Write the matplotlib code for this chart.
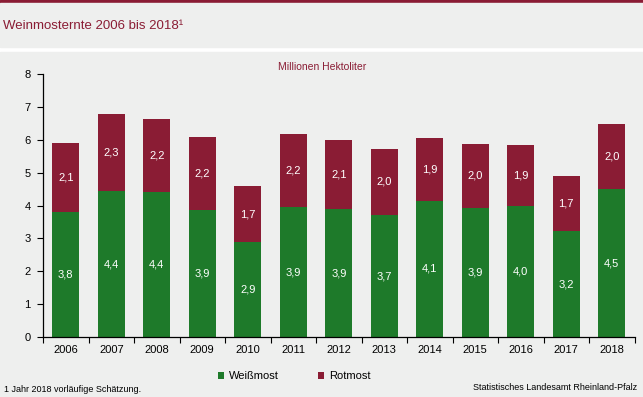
import numpy as np
import matplotlib.pyplot as plt
from matplotlib.patches import Rectangle

W, H = 643, 397
BG = '#eeefee'
GREEN = '#1e7a2a'
RED = '#8a1c34'

years = ['2006', '2007', '2008', '2009', '2010', '2011', '2012',
         '2013', '2014', '2015', '2016', '2017', '2018']
weiss = [3.80, 4.44, 4.41, 3.86, 2.89, 3.94, 3.89, 3.71, 4.14, 3.92, 3.98, 3.22, 4.50]
rot = [2.10, 2.34, 2.22, 2.22, 1.70, 2.22, 2.10, 2.01, 1.91, 1.96, 1.86, 1.67, 1.98]
yticks = [0, 1, 2, 3, 4, 5, 6, 7, 8]

plt.rcParams['font.family'] = ['Liberation Sans', 'DejaVu Sans']

fig = plt.figure(figsize=(W / 100, H / 100), dpi=100)
fig.patch.set_facecolor('white')

def px_rect(x0, y0, x1, y1, color):
    fig.patches.append(Rectangle((x0 / W, 1 - y1 / H), (x1 - x0) / W, (y1 - y0) / H,
                                 transform=fig.transFigure, color=color, zorder=-5))

px_rect(0, 0, W, 3, RED)
px_rect(0, 3, W, 47, BG)
px_rect(0, 52, W, H, BG)

fig.text(3 / W, 1 - 26 / H, 'Weinmosternte 2006 bis 2018\u00b9', fontsize=9.5,
         color=RED, va='center', ha='left')

ax = fig.add_axes([43 / W, 60 / H, 591.5 / W, 263 / H])
ax.set_facecolor(BG)
x = np.arange(len(years))
b1 = ax.bar(x, weiss, width=0.6, color=GREEN, zorder=2)
b2 = ax.bar(x, rot, width=0.6, bottom=weiss, color=RED, zorder=2)

for i in range(len(years)):
    ax.text(x[i], weiss[i] / 2, f'{weiss[i]:.1f}'.replace('.', ','), ha='center',
            va='center', color='white', fontsize=8)
    ax.text(x[i], weiss[i] + rot[i] / 2, f'{rot[i]:.1f}'.replace('.', ','), ha='center',
            va='center', color='white', fontsize=8)

ax.set_xlim(-0.5, len(years) - 0.5)
ax.set_ylim(0, 8)
ax.set_yticks(yticks)
ax.set_xticks(x)
ax.set_xticklabels(years)
ax.set_xticks(np.arange(len(years) + 1) - 0.5, minor=True)
ax.tick_params(axis='x', which='major', length=0, labelsize=8, pad=6)
ax.tick_params(axis='x', which='minor', length=4, width=0.8, direction='out')
ax.tick_params(axis='y', length=4, width=0.8, labelsize=8, pad=5)
for s in ['top', 'right']:
    ax.spines[s].set_visible(False)
for s in ['left', 'bottom']:
    ax.spines[s].set_linewidth(0.9)

fig.text(322 / W, 1 - 67 / H, 'Millionen Hektoliter', fontsize=7.5, color=RED,
         ha='center', va='center')

leg = fig.legend([b1, b2], ['Weißmost', 'Rotmost'], loc='center',
                 bbox_to_anchor=(294 / W, 1 - 376 / H), ncol=2, frameon=False,
                 fontsize=8, handlelength=0.6, handleheight=0.6, columnspacing=3.5,
                 handletextpad=0.4)

fig.text(4 / W, 1 - 389 / H, '1 Jahr 2018 vorläufige Schätzung.', fontsize=6.5,
         ha='left', va='center')
fig.text(637 / W, 1 - 388 / H, 'Statistisches Landesamt Rheinland-Pfalz', fontsize=6.5,
         ha='right', va='center')

fig.savefig('out.png', dpi=100, facecolor=fig.get_facecolor())
